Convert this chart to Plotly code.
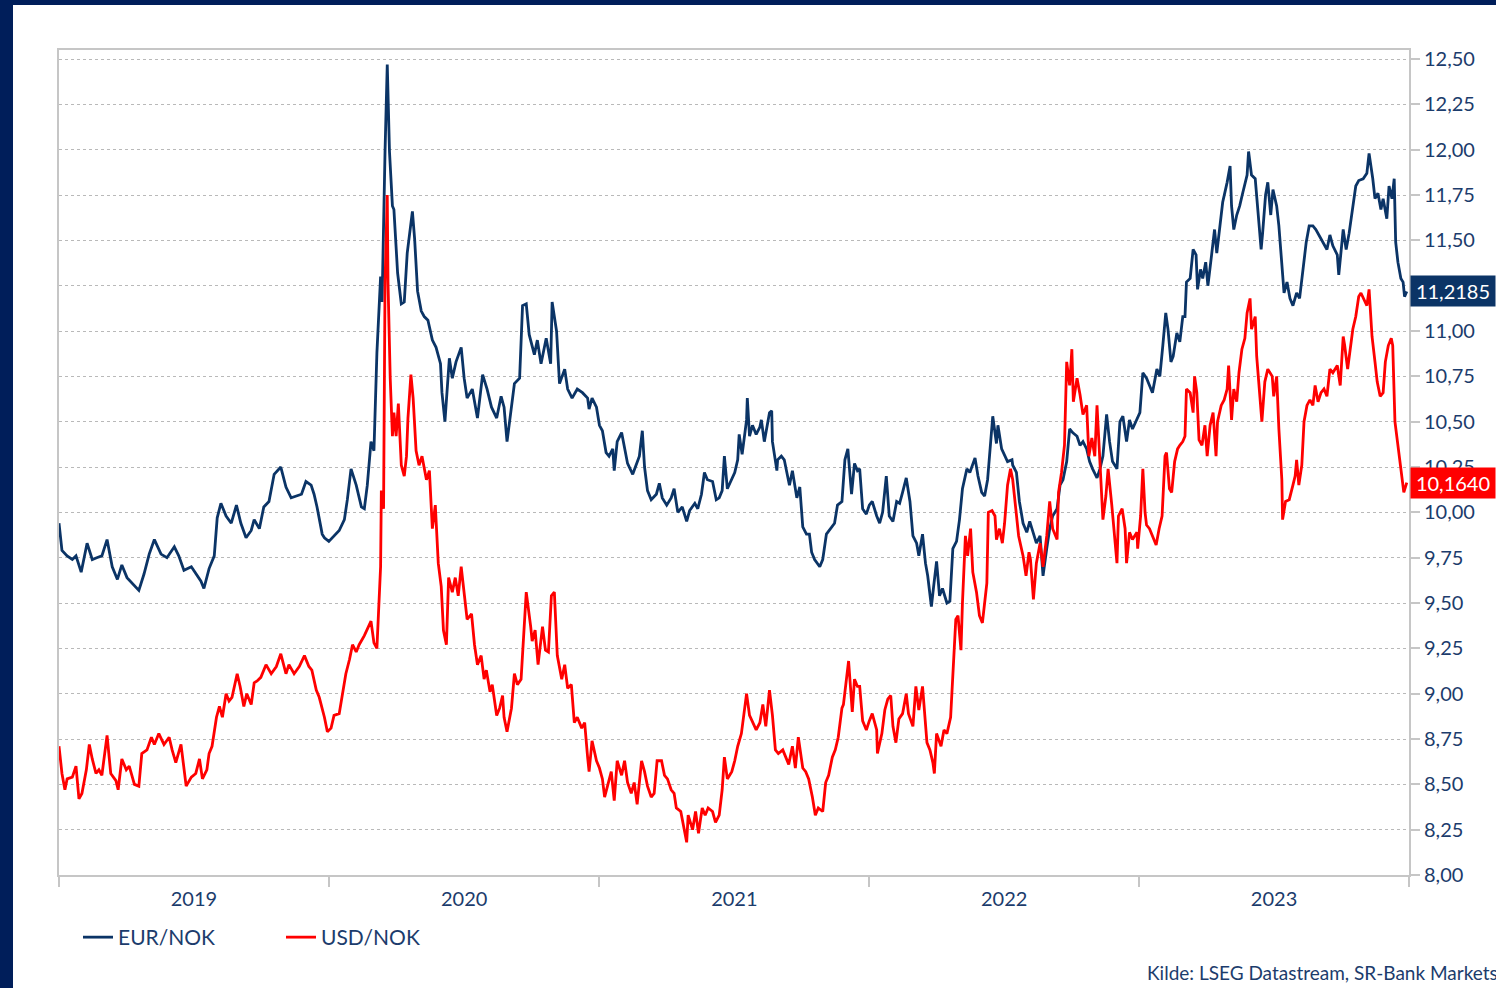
import pandas as pd
import plotly.graph_objects as go

START = pd.Timestamp("2019-01-01")

# (days since 2019-01-01, rate)
eur_points = [
    (0, 9.94), (4, 9.79), (11, 9.76), (18, 9.74), (23, 9.76), (30, 9.67), (38, 9.83), (45, 9.74), (51, 9.75),
    (58, 9.76), (65, 9.85), (72, 9.70), (79, 9.63), (85, 9.71), (92, 9.64), (99, 9.61), (108, 9.57), (115, 9.66),
    (122, 9.77), (129, 9.85), (138, 9.77), (146, 9.75), (156, 9.81), (162, 9.76), (169, 9.68), (179, 9.70),
    (185, 9.66), (192, 9.62), (196, 9.58), (203, 9.69), (210, 9.76), (214, 9.97), (219, 10.05), (226, 9.98),
    (233, 9.94), (240, 10.04), (246, 9.94), (253, 9.86), (260, 9.90), (264, 9.96), (271, 9.91), (277, 10.03),
    (284, 10.06), (291, 10.21), (300, 10.25), (307, 10.14), (314, 10.08), (321, 10.09), (328, 10.10), (334, 10.17),
    (341, 10.15), (345, 10.10), (349, 10.03), (356, 9.88), (359, 9.86), (365, 9.84), (372, 9.87), (379, 9.90),
    (386, 9.96), (390, 10.07), (395, 10.24), (402, 10.15), (409, 10.03), (413, 10.02), (417, 10.15), (422, 10.39),
    (426, 10.34), (430, 10.88), (435, 11.30), (437, 11.16), (441, 11.99), (444, 12.47), (447, 11.99), (451, 11.69),
    (453, 11.67), (458, 11.32), (463, 11.15), (467, 11.16), (471, 11.43), (478, 11.66), (481, 11.51), (485, 11.22),
    (490, 11.11), (494, 11.08), (499, 11.06), (505, 10.95), (510, 10.91), (516, 10.82), (518, 10.66), (522, 10.50),
    (528, 10.85), (532, 10.74), (537, 10.83), (544, 10.91), (548, 10.74), (552, 10.63), (559, 10.68), (566, 10.52),
    (573, 10.76), (579, 10.68), (585, 10.58), (592, 10.52), (598, 10.64), (602, 10.58), (606, 10.39), (612, 10.58),
    (616, 10.71), (623, 10.74), (627, 11.14), (632, 11.15), (636, 10.98), (643, 10.87), (647, 10.95), (652, 10.82),
    (659, 10.96), (665, 10.82), (667, 11.16), (673, 11.00), (677, 10.71), (684, 10.79), (688, 10.68), (694, 10.63),
    (701, 10.68), (708, 10.66), (715, 10.63), (717, 10.57), (721, 10.63), (727, 10.58), (731, 10.48), (735, 10.45),
    (740, 10.33), (744, 10.31), (749, 10.35), (751, 10.23), (755, 10.39), (761, 10.44), (765, 10.35), (769, 10.27),
    (776, 10.21), (781, 10.27), (785, 10.31), (789, 10.45), (792, 10.25), (796, 10.12), (801, 10.07), (808, 10.10),
    (812, 10.16), (816, 10.08), (822, 10.04), (828, 10.08), (832, 10.13), (837, 10.00), (843, 10.03), (849, 9.95),
    (853, 10.01), (860, 10.05), (864, 10.02), (869, 10.10), (873, 10.22), (877, 10.18), (884, 10.17), (889, 10.07),
    (893, 10.08), (897, 10.12), (900, 10.31), (904, 10.13), (910, 10.18), (914, 10.22), (918, 10.29), (920, 10.43),
    (924, 10.32), (930, 10.51), (931, 10.63), (934, 10.42), (938, 10.48), (943, 10.43), (948, 10.47), (950, 10.51),
    (954, 10.39), (958, 10.47), (961, 10.55), (964, 10.56), (965, 10.39), (971, 10.23), (972, 10.29), (977, 10.31),
    (981, 10.29), (984, 10.23), (988, 10.15), (992, 10.23), (998, 10.08), (1002, 10.14), (1006, 9.92), (1011, 9.88),
    (1015, 9.88), (1018, 9.78), (1022, 9.74), (1029, 9.70), (1033, 9.74), (1038, 9.88), (1042, 9.90), (1049, 9.94),
    (1053, 10.04), (1059, 10.06), (1063, 10.29), (1067, 10.35), (1072, 10.10), (1076, 10.27), (1080, 10.23),
    (1083, 10.24), (1087, 10.02), (1092, 9.99), (1096, 10.04), (1100, 10.06), (1106, 9.98), (1110, 9.94),
    (1114, 10.00), (1119, 10.20), (1123, 9.98), (1128, 9.95), (1133, 10.06), (1137, 10.05), (1141, 10.11),
    (1146, 10.19), (1151, 10.06), (1155, 9.87), (1160, 9.83), (1163, 9.76), (1168, 9.88), (1172, 9.72),
    (1175, 9.65), (1180, 9.48), (1183, 9.59), (1187, 9.73), (1191, 9.54), (1195, 9.58), (1201, 9.50), (1205, 9.51),
    (1209, 9.80), (1214, 9.84), (1218, 9.96), (1222, 10.13), (1228, 10.24), (1232, 10.22), (1239, 10.30),
    (1243, 10.20), (1248, 10.11), (1252, 10.09), (1256, 10.18), (1260, 10.41), (1263, 10.53), (1268, 10.38),
    (1270, 10.48), (1275, 10.35), (1279, 10.31), (1283, 10.28), (1289, 10.29), (1290, 10.26), (1295, 10.22),
    (1299, 10.06), (1304, 9.94), (1309, 9.89), (1313, 9.95), (1317, 9.89), (1322, 9.83), (1327, 9.87),
    (1331, 9.65), (1336, 9.80), (1340, 9.91), (1344, 9.98), (1350, 10.02), (1354, 10.15), (1358, 10.18),
    (1363, 10.28), (1367, 10.46), (1371, 10.44), (1377, 10.42), (1381, 10.37), (1385, 10.39), (1390, 10.35),
    (1394, 10.28), (1398, 10.24), (1404, 10.19), (1408, 10.24), (1412, 10.31), (1417, 10.54), (1421, 10.39),
    (1425, 10.28), (1431, 10.24), (1435, 10.50), (1439, 10.53), (1444, 10.39), (1448, 10.51), (1452, 10.46),
    (1458, 10.51), (1462, 10.55), (1466, 10.77), (1471, 10.74), (1475, 10.70), (1479, 10.66), (1485, 10.79),
    (1489, 10.75), (1493, 10.92), (1497, 11.10), (1500, 11.01), (1504, 10.83), (1507, 10.86), (1512, 10.99),
    (1516, 10.94), (1520, 11.08), (1523, 11.08), (1525, 11.27), (1530, 11.29), (1534, 11.45), (1538, 11.42),
    (1540, 11.23), (1544, 11.34), (1547, 11.29), (1551, 11.38), (1554, 11.25), (1559, 11.42), (1563, 11.56),
    (1566, 11.43), (1570, 11.58), (1574, 11.71), (1580, 11.82), (1584, 11.91), (1586, 11.69), (1589, 11.56),
    (1593, 11.64), (1597, 11.69), (1601, 11.76), (1607, 11.86), (1609, 11.99), (1613, 11.86), (1618, 11.84),
    (1622, 11.65), (1626, 11.45), (1628, 11.54), (1632, 11.75), (1635, 11.82), (1639, 11.64), (1642, 11.78),
    (1647, 11.69), (1650, 11.58), (1654, 11.38), (1657, 11.21), (1661, 11.27), (1665, 11.18), (1669, 11.14),
    (1674, 11.21), (1678, 11.18), (1682, 11.31), (1687, 11.49), (1691, 11.58), (1696, 11.58), (1700, 11.56),
    (1704, 11.53), (1710, 11.49), (1715, 11.45), (1719, 11.53), (1723, 11.47), (1729, 11.42), (1731, 11.31),
    (1737, 11.56), (1741, 11.45), (1745, 11.54), (1750, 11.67), (1754, 11.80), (1758, 11.83), (1764, 11.84),
    (1769, 11.87), (1772, 11.98), (1777, 11.84), (1780, 11.73), (1784, 11.76), (1788, 11.67), (1791, 11.73),
    (1796, 11.62), (1799, 11.80), (1803, 11.73), (1806, 11.84), (1808, 11.49), (1811, 11.38), (1815, 11.29),
    (1818, 11.27), (1820, 11.19), (1823, 11.2185),
]

usd_points = [
    (0, 8.71), (4, 8.56), (8, 8.47), (11, 8.53), (18, 8.54), (23, 8.60), (27, 8.42), (31, 8.45), (37, 8.58),
    (41, 8.72), (45, 8.64), (50, 8.56), (54, 8.58), (58, 8.55), (65, 8.77), (70, 8.56), (77, 8.52), (80, 8.47),
    (85, 8.64), (91, 8.58), (95, 8.60), (102, 8.50), (108, 8.49), (112, 8.67), (119, 8.69), (125, 8.76),
    (129, 8.72), (135, 8.78), (142, 8.72), (149, 8.76), (153, 8.69), (158, 8.62), (165, 8.72), (172, 8.49),
    (179, 8.54), (185, 8.56), (190, 8.64), (194, 8.53), (200, 8.58), (203, 8.67), (207, 8.71), (213, 8.87),
    (217, 8.93), (221, 8.87), (226, 9.00), (230, 8.96), (234, 8.98), (241, 9.11), (245, 9.04), (250, 8.93),
    (254, 9.00), (260, 8.94), (264, 9.06), (268, 9.07), (273, 9.09), (280, 9.16), (287, 9.11), (294, 9.15),
    (300, 9.22), (307, 9.11), (311, 9.16), (318, 9.11), (325, 9.15), (332, 9.21), (338, 9.15), (342, 9.13),
    (348, 9.02), (352, 8.98), (359, 8.87), (363, 8.79), (368, 8.81), (372, 8.88), (379, 8.89), (383, 8.99),
    (388, 9.11), (393, 9.19), (397, 9.27), (402, 9.23), (406, 9.27), (413, 9.32), (417, 9.36), (422, 9.40),
    (426, 9.28), (430, 9.25), (435, 9.70), (436, 10.12), (439, 10.02), (441, 11.27), (444, 11.75), (445, 11.27),
    (448, 10.74), (451, 10.42), (453, 10.55), (456, 10.42), (459, 10.60), (463, 10.26), (467, 10.20),
    (470, 10.31), (472, 10.52), (476, 10.76), (479, 10.63), (483, 10.34), (487, 10.26), (491, 10.31),
    (497, 10.18), (501, 10.23), (505, 9.91), (509, 10.04), (513, 9.72), (517, 9.59), (520, 9.35), (524, 9.27),
    (527, 9.64), (532, 9.56), (536, 9.64), (540, 9.54), (544, 9.70), (548, 9.54), (552, 9.41), (558, 9.44),
    (562, 9.27), (566, 9.16), (571, 9.21), (575, 9.08), (578, 9.13), (583, 9.01), (586, 9.05), (592, 8.88),
    (596, 8.92), (600, 8.99), (602, 8.87), (606, 8.79), (612, 8.92), (616, 9.11), (620, 9.05), (625, 9.08),
    (628, 9.29), (632, 9.56), (638, 9.37), (640, 9.29), (644, 9.35), (648, 9.16), (654, 9.37), (658, 9.24),
    (662, 9.23), (666, 9.54), (670, 9.56), (674, 9.21), (680, 9.08), (684, 9.16), (688, 9.03), (693, 9.05),
    (697, 8.84), (701, 8.87), (707, 8.81), (711, 8.84), (715, 8.65), (717, 8.57), (721, 8.74), (727, 8.63),
    (731, 8.59), (735, 8.53), (738, 8.43), (742, 8.49), (747, 8.57), (751, 8.41), (755, 8.63), (761, 8.55),
    (765, 8.63), (769, 8.51), (774, 8.45), (778, 8.51), (782, 8.39), (788, 8.63), (792, 8.57), (796, 8.49),
    (801, 8.43), (805, 8.45), (809, 8.63), (815, 8.63), (819, 8.55), (823, 8.53), (828, 8.47), (832, 8.45),
    (835, 8.37), (841, 8.35), (843, 8.31), (849, 8.18), (851, 8.33), (857, 8.25), (861, 8.35), (865, 8.23),
    (870, 8.37), (874, 8.33), (878, 8.37), (884, 8.35), (888, 8.29), (893, 8.33), (897, 8.47), (900, 8.65),
    (904, 8.53), (910, 8.57), (914, 8.63), (918, 8.71), (923, 8.78), (927, 8.92), (930, 9.00), (934, 8.88),
    (938, 8.84), (943, 8.80), (948, 8.84), (952, 8.94), (956, 8.82), (961, 9.02), (965, 8.88), (969, 8.69),
    (973, 8.67), (979, 8.69), (983, 8.65), (987, 8.61), (992, 8.71), (996, 8.59), (1000, 8.76), (1006, 8.59),
    (1010, 8.57), (1014, 8.53), (1019, 8.43), (1023, 8.33), (1027, 8.37), (1033, 8.35), (1037, 8.51),
    (1041, 8.55), (1046, 8.65), (1050, 8.69), (1054, 8.76), (1059, 8.92), (1061, 8.94), (1065, 9.08),
    (1068, 9.18), (1073, 8.90), (1076, 9.08), (1080, 9.04), (1083, 9.04), (1087, 8.85), (1092, 8.80),
    (1096, 8.85), (1100, 8.89), (1106, 8.80), (1107, 8.67), (1113, 8.78), (1117, 8.91), (1121, 8.97),
    (1125, 8.99), (1128, 8.82), (1132, 8.73), (1136, 8.86), (1141, 8.89), (1146, 9.00), (1149, 8.89),
    (1155, 8.82), (1159, 9.04), (1163, 8.91), (1168, 9.04), (1174, 8.73), (1178, 8.69), (1182, 8.62),
    (1184, 8.56), (1187, 8.78), (1193, 8.71), (1197, 8.80), (1201, 8.78), (1206, 8.87), (1209, 9.08),
    (1213, 9.41), (1216, 9.43), (1220, 9.24), (1222, 9.50), (1226, 9.87), (1229, 9.76), (1233, 9.91),
    (1236, 9.67), (1241, 9.56), (1245, 9.43), (1249, 9.39), (1255, 9.61), (1257, 10.00), (1262, 10.01),
    (1266, 9.98), (1268, 9.85), (1272, 9.91), (1276, 9.83), (1279, 9.94), (1283, 10.15), (1287, 10.24),
    (1290, 10.18), (1295, 9.98), (1298, 9.87), (1304, 9.76), (1308, 9.65), (1312, 9.78), (1314, 9.74),
    (1318, 9.52), (1322, 9.72), (1327, 9.83), (1331, 9.70), (1336, 9.87), (1340, 10.06), (1344, 9.91),
    (1350, 9.85), (1352, 10.11), (1356, 10.22), (1360, 10.37), (1363, 10.83), (1367, 10.70), (1370, 10.90),
    (1372, 10.61), (1377, 10.74), (1381, 10.65), (1385, 10.54), (1390, 10.59), (1393, 10.31), (1397, 10.41),
    (1401, 10.31), (1404, 10.59), (1408, 10.24), (1412, 9.96), (1416, 10.09), (1419, 10.24), (1424, 10.04),
    (1427, 9.89), (1431, 9.72), (1433, 9.98), (1438, 10.02), (1442, 9.91), (1444, 9.72), (1448, 9.89),
    (1452, 9.85), (1458, 9.89), (1459, 9.80), (1463, 9.98), (1466, 10.24), (1469, 10.00), (1471, 9.93),
    (1475, 9.91), (1479, 9.87), (1484, 9.82), (1488, 9.91), (1492, 9.98), (1496, 10.31), (1498, 10.33),
    (1502, 10.13), (1505, 10.11), (1509, 10.28), (1513, 10.35), (1516, 10.37), (1520, 10.39), (1523, 10.42),
    (1525, 10.68), (1530, 10.66), (1534, 10.55), (1536, 10.75), (1539, 10.66), (1542, 10.40), (1546, 10.37),
    (1550, 10.48), (1553, 10.31), (1557, 10.48), (1561, 10.55), (1565, 10.31), (1567, 10.50), (1572, 10.59),
    (1576, 10.62), (1580, 10.68), (1582, 10.81), (1586, 10.51), (1589, 10.68), (1593, 10.61), (1596, 10.77),
    (1600, 10.90), (1604, 10.96), (1607, 11.10), (1611, 11.18), (1613, 11.01), (1618, 11.08), (1620, 10.86),
    (1624, 10.68), (1627, 10.50), (1631, 10.72), (1635, 10.79), (1641, 10.75), (1643, 10.64), (1647, 10.75),
    (1650, 10.46), (1654, 10.18), (1655, 9.96), (1659, 10.06), (1664, 10.07), (1669, 10.15), (1672, 10.20),
    (1674, 10.29), (1677, 10.15), (1681, 10.26), (1684, 10.50), (1688, 10.59), (1692, 10.62), (1696, 10.59),
    (1699, 10.70), (1703, 10.61), (1707, 10.66), (1711, 10.68), (1715, 10.64), (1719, 10.79), (1723, 10.77),
    (1729, 10.81), (1733, 10.70), (1737, 10.97), (1739, 10.92), (1743, 10.79), (1748, 10.97), (1750, 11.01),
    (1754, 11.08), (1758, 11.19), (1761, 11.21), (1765, 11.17), (1769, 11.14), (1772, 11.23), (1776, 10.97),
    (1780, 10.83), (1783, 10.72), (1787, 10.64), (1791, 10.66), (1794, 10.83), (1798, 10.92), (1802, 10.96),
    (1804, 10.92), (1807, 10.50), (1811, 10.37), (1814, 10.29), (1817, 10.18), (1819, 10.11), (1823, 10.164),
]

eur_last = 11.2185
usd_last = 10.1640
y_ticks = [8.00, 8.25, 8.50, 8.75, 9.00, 9.25, 9.50, 9.75, 10.00, 10.25, 10.50, 10.75,
           11.00, 11.25, 11.50, 11.75, 12.00, 12.25, 12.50]
series_names = ["EUR/NOK", "USD/NOK"]
source_text = "Kilde: LSEG Datastream, SR-Bank Markets"

NAVY = "#0b3466"
RED = "#ff0000"
TEXT = "#1c3c6c"
GRID = "#b9b9b9"
FRAME = "#c6c6c6"
BAR = "#001e5a"
FONT = "Lato, 'Open Sans', sans-serif"


def to_dates(points):
    days = [p[0] for p in points]
    vals = [p[1] for p in points]
    dates = START + pd.to_timedelta(days, unit="D")
    return dates, vals


fig = go.Figure()
for pts, name, color in [(eur_points, series_names[0], NAVY), (usd_points, series_names[1], RED)]:
    d, v = to_dates(pts)
    fig.add_trace(go.Scatter(x=d, y=v, mode="lines", name=name,
                             line=dict(color=color, width=2.8)))

W, H = 1496, 988
L, R, T, B = 59, 87, 50, 113
pw = W - L - R
ph = H - T - B


def px_x(px):
    return (px - L) / pw


def px_y(py):
    return (H - B - py) / ph


fig.update_layout(
    width=W, height=H,
    margin=dict(l=L, r=R, t=T, b=B),
    paper_bgcolor="white", plot_bgcolor="white",
    separators=", ",
    font=dict(family=FONT, color=TEXT, size=20),
    showlegend=True,
    legend=dict(orientation="h", x=px_x(78), xanchor="left", y=px_y(917), yanchor="top",
                font=dict(size=21, color=TEXT), entrywidth=158, entrywidthmode="pixels",
                bgcolor="rgba(0,0,0,0)"),
    xaxis=dict(
        type="date", range=["2019-01-01", "2024-01-01"],
        tick0="2019-01-01", dtick="M12", tickformat="%Y", ticklabelmode="period",
        showgrid=False, showline=True, linecolor=FRAME, linewidth=2, mirror=True,
        ticks="outside", ticklen=10, tickwidth=2, tickcolor=FRAME,
        tickfont=dict(size=20, color=TEXT), zeroline=False, ticklabelstandoff=-5,
    ),
    yaxis=dict(
        side="right", range=[8.0, 12.55],
        tickvals=y_ticks, tickformat=".2f",
        showgrid=True, gridcolor=GRID, griddash="dot", gridwidth=1,
        showline=True, linecolor=FRAME, linewidth=2, mirror=True,
        ticks="outside", ticklen=9, tickwidth=2, tickcolor=FRAME,
        tickfont=dict(size=20, color=TEXT), zeroline=False,
    ),
)

# navy page frame (left and top bars)
fig.add_shape(type="rect", xref="paper", yref="paper", x0=px_x(0), x1=px_x(13), y0=px_y(H), y1=px_y(0),
              fillcolor=BAR, line_width=0, layer="above")
fig.add_shape(type="rect", xref="paper", yref="paper", x0=px_x(0), x1=px_x(W), y0=px_y(5), y1=px_y(0),
              fillcolor=BAR, line_width=0, layer="above")

# last-value labels
for val, col in [(eur_last, NAVY), (usd_last, RED)]:
    fig.add_annotation(xref="paper", yref="y", x=1, y=val, xanchor="left", yanchor="middle",
                       xshift=1, text=f"{val:.4f}".replace(".", ","), showarrow=False,
                       bgcolor=col, font=dict(color="white", size=20, family=FONT),
                       width=78, align="center", borderpad=3)

fig.add_annotation(xref="paper", yref="paper", x=px_x(1145), y=px_y(972), xanchor="left", yanchor="middle",
                   text=source_text, showarrow=False, font=dict(size=19, color=TEXT))

fig.write_html("out.html", post_script="document.body.style.margin='0';",
               config={"displayModeBar": False})
